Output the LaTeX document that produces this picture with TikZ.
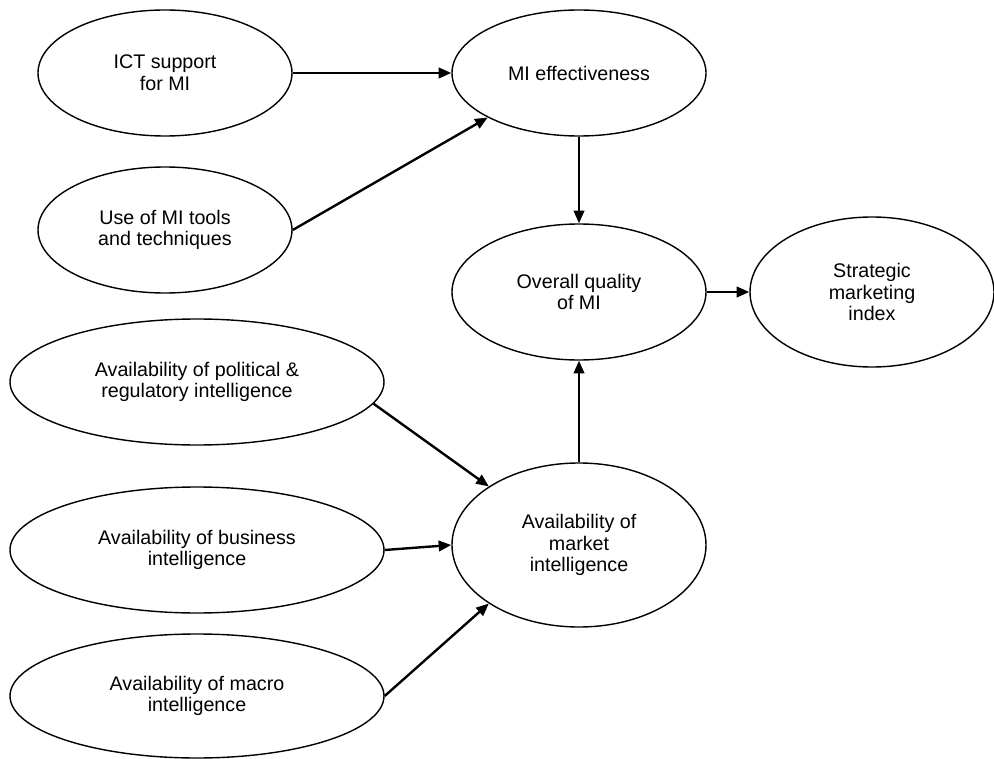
\documentclass[tikz,border=0pt]{standalone}
\usepackage{fontspec}
\setmainfont{Liberation Sans}
\usetikzlibrary{shapes.geometric,arrows.meta}

\tikzset{
  faktor/.style={ellipse, draw, line width=1pt, align=center, inner sep=0pt,
    font=\fontsize{14}{15.5}\selectfont},
  pfeil/.style={->, line width=1.7pt}
}

\begin{document}
\begin{tikzpicture}[scale=1.0, >={Triangle[length=9pt,width=7.5pt]}]

        \useasboundingbox (0,0) rectangle (24.85,18.95);

        % Einflussgroessen oben
        \node[faktor, minimum width=6.35cm, minimum height=3.15cm] (ict) at (4.125,17.125) {ICT support\\for MI};
        \node[faktor, minimum width=6.35cm, minimum height=3.15cm] (tools) at (4.125,13.2) {Use of MI tools\\and techniques};
        \node[faktor, minimum width=6.35cm, minimum height=3.15cm] (mieff) at (14.475,17.125) {MI effectiveness};

        % Mitte und Ergebnis
        \node[faktor, minimum width=6.35cm, minimum height=3.4cm] (quality) at (14.475,11.65) {Overall quality\\of MI};
        \node[faktor, minimum width=6.1cm, minimum height=3.75cm] (smi) at (21.8,11.65) {Strategic\\marketing\\index};
        \node[faktor, minimum width=6.35cm, minimum height=4.1cm] (market) at (14.475,5.325) {Availability of\\market\\intelligence};

        % Einflussgroessen unten
        \node[faktor, minimum width=9.35cm, minimum height=3.15cm] (pol) at (4.925,9.4) {Availability of political \&\\regulatory intelligence};
        \node[faktor, minimum width=9.35cm, minimum height=3.15cm] (bus) at (4.925,5.2) {Availability of business\\intelligence};
        \node[faktor, minimum width=9.35cm, minimum height=3.1cm] (macro) at (4.925,1.55) {Availability of macro\\intelligence};

        % Pfeile
        \draw[pfeil] (ict) -- (mieff);
        \draw[pfeil] (tools.east) -- (mieff.206);
        \draw[pfeil] (mieff) -- (quality);
        \draw[pfeil] (quality) -- (smi);
        \draw[pfeil] (market) -- (quality);
        \draw[pfeil] (pol.353) -- (market.147);
        \draw[pfeil] (bus.east) -- (market.west);
        \draw[pfeil] (macro.east) -- (market.213);

    \end{tikzpicture}
\end{document}
